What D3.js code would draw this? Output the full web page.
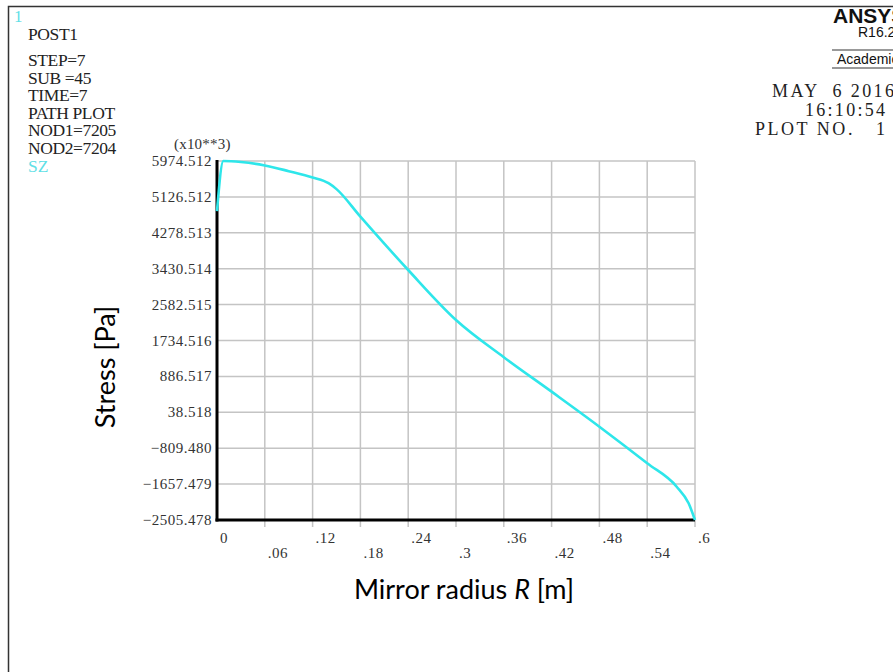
<!DOCTYPE html>
<html>
<head>
<meta charset="utf-8">
<script src="https://cdn.jsdelivr.net/npm/d3@7"></script>
<style>
  body { margin: 0; background: #fff; }
  svg { display: block; }
</style>
</head>
<body>
<svg id="chart" width="893" height="672"></svg>
<script>
// path plot data: radius [m] vs SZ stress [Pa x10^3]
const radius = [0, 0.008, 0.03, 0.06, 0.09, 0.12, 0.14, 0.15, 0.18, 0.24, 0.30, 0.36, 0.42, 0.48, 0.54, 0.577, 0.592, 0.6];
const stress = [4793, 5974, 5950, 5870, 5735, 5585, 5450, 5310, 4660, 3400, 2220, 1340, 526, -301, -1166, -1719, -2111, -2505.478];

const yTickLabels = ["5974.512", "5126.512", "4278.513", "3430.514", "2582.515", "1734.516",
  "886.517", "38.518", "-809.480", "-1657.479", "-2505.478"];
const xTickLabels = ["0", ".06", ".12", ".18", ".24", ".3", ".36", ".42", ".48", ".54", ".6"];

const infoLines = ["POST1", "", "STEP=7", "SUB =45", "TIME=7", "PATH PLOT", "NOD1=7205", "NOD2=7204"];

const svg = d3.select("#chart");
const serif = "'Liberation Serif', 'Times New Roman', serif";
const sans = "'Liberation Sans', Arial, sans-serif";

const x = d3.scaleLinear().domain([0, 0.6]).range([217, 695]);
const y = d3.scaleLinear().domain([-2505.478, 5974.512]).range([520, 161]);

// frame
svg.append("path")
  .attr("d", "M8.5,672 V6.5 H893")
  .attr("fill", "none")
  .attr("stroke", "#333")
  .attr("stroke-width", 1.5);

// left info block
svg.append("text")
  .attr("x", 14).attr("y", 22)
  .attr("font-family", serif).attr("font-size", 17)
  .attr("fill", "#5fe0e6")
  .text("1");

infoLines.forEach((t, i) => {
  if (!t) return;
  svg.append("text")
    .attr("x", 28).attr("y", i === 0 ? 40 : 66 + (i - 2) * 17.6)
    .attr("font-family", serif).attr("font-size", 17.5)
    .attr("letter-spacing", -0.4)
    .attr("fill", "#222")
    .text(t);
});

svg.append("text")
  .attr("x", 28).attr("y", 172)
  .attr("font-family", serif).attr("font-size", 17.5)
  .attr("fill", "#5fe0e6")
  .text("SZ");

// right header block
svg.append("text")
  .attr("x", 833).attr("y", 23)
  .attr("font-family", sans)
  .attr("font-weight", "bold").attr("font-size", 21)
  .attr("fill", "#111")
  .text("ANSYS");
svg.append("text")
  .attr("x", 858).attr("y", 37)
  .attr("font-family", sans)
  .attr("font-size", 14).attr("fill", "#111")
  .text("R16.2");

[50, 68].forEach(yy => {
  svg.append("line")
    .attr("x1", 832).attr("x2", 893)
    .attr("y1", yy).attr("y2", yy)
    .attr("stroke", "#999").attr("stroke-width", 2);
});
svg.append("text")
  .attr("x", 837).attr("y", 64)
  .attr("font-family", sans)
  .attr("font-size", 14).attr("fill", "#111")
  .text("Academic");

const rightLines = [
  {t: "MAY  6 2016", x0: 772, x1: 894, yb: 97},
  {t: "16:10:54", x0: 805, x1: 885, yb: 116},
  {t: "PLOT NO.   1", x0: 755, x1: 885, yb: 135}
];
rightLines.forEach(d => {
  svg.append("text")
    .attr("x", d.x0).attr("y", d.yb)
    .attr("font-family", serif).attr("font-size", 18)
    .attr("xml:space", "preserve")
    .attr("textLength", d.x1 - d.x0)
    .attr("lengthAdjust", "spacing")
    .attr("fill", "#222")
    .text(d.t);
});

// grid
const yTicks = yTickLabels.map(Number);
const xTicks = xTickLabels.map(Number);

svg.append("g")
  .selectAll("line")
  .data(yTicks)
  .join("line")
  .attr("x1", x(0)).attr("x2", x(0.6))
  .attr("y1", d => y(d)).attr("y2", d => y(d))
  .attr("stroke", "#c4c4c4").attr("stroke-width", 1.5);

svg.append("g")
  .selectAll("line")
  .data(xTicks.slice(1))
  .join("line")
  .attr("x1", d => x(d)).attr("x2", d => x(d))
  .attr("y1", y(5974.512)).attr("y2", y(-2505.478) + 7)
  .attr("stroke", "#c4c4c4").attr("stroke-width", 1.5);

// axes lines
svg.append("line")
  .attr("x1", x(0)).attr("x2", x(0))
  .attr("y1", y(5974.512) - 1).attr("y2", y(-2505.478) + 1.5)
  .attr("stroke", "#000").attr("stroke-width", 3);
svg.append("line")
  .attr("x1", x(0) - 1.5).attr("x2", x(0.6))
  .attr("y1", y(-2505.478)).attr("y2", y(-2505.478))
  .attr("stroke", "#000").attr("stroke-width", 3);

// y tick labels
svg.append("g")
  .selectAll("text")
  .data(yTickLabels)
  .join("text")
  .attr("x", 212)
  .attr("y", d => y(+d) + 5)
  .attr("text-anchor", "end")
  .attr("font-family", serif).attr("font-size", 15)
  .attr("letter-spacing", 0.5)
  .attr("fill", "#333")
  .text(d => d.replace("-", "\u2212"));

// x tick labels (staggered)
svg.append("g")
  .selectAll("text")
  .data(xTickLabels)
  .join("text")
  .attr("x", d => x(+d) + 3)
  .attr("y", (d, i) => i % 2 === 0 ? 543 : 558)
  .attr("font-family", serif).attr("font-size", 15)
  .attr("letter-spacing", 0.5)
  .attr("fill", "#333")
  .text(d => d);

svg.append("text")
  .attr("x", 174).attr("y", 149)
  .attr("font-family", serif).attr("font-size", 15)
  .attr("letter-spacing", 0.2)
  .attr("fill", "#333")
  .text("(x10**3)");

// curve
const line = d3.line()
  .x((d, i) => x(radius[i]))
  .y(d => y(d))
  .curve(d3.curveMonotoneX);

svg.append("path")
  .datum(stress)
  .attr("d", line)
  .attr("fill", "none")
  .attr("stroke", "#2ee6ea")
  .attr("stroke-width", 2.6)
  .attr("stroke-linejoin", "round");

// axis titles
svg.append("text")
  .attr("transform", "translate(115,367) rotate(-90)")
  .attr("text-anchor", "middle")
  .attr("font-family", "Lato, 'Open Sans', sans-serif")
  .attr("font-size", 27)
  .attr("fill", "#000")
  .text("Stress [Pa]");

const xt = svg.append("text")
  .attr("x", 464).attr("y", 599)
  .attr("text-anchor", "middle")
  .attr("font-family", "Lato, 'Open Sans', sans-serif")
  .attr("font-size", 27)
  .attr("fill", "#000");
xt.append("tspan").text("Mirror radius ");
xt.append("tspan").attr("font-style", "italic").text("R");
xt.append("tspan").text(" [m]");
</script>
</body>
</html>
